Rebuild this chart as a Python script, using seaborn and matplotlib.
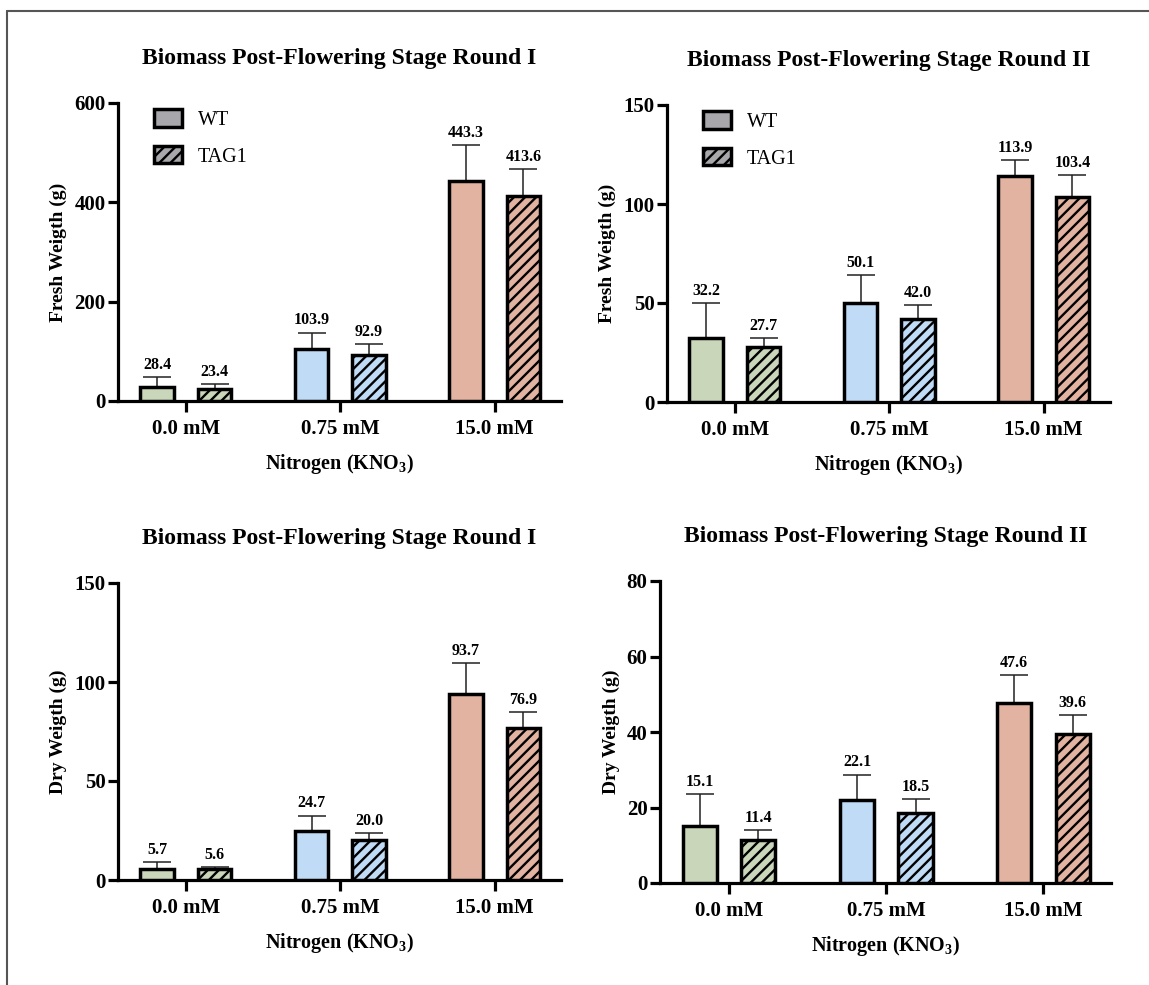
import numpy as np
import pandas as pd
import matplotlib
matplotlib.use("Agg")
import matplotlib.pyplot as plt
from matplotlib.patches import Patch
from matplotlib.lines import Line2D
import seaborn as sns

# ---- data ----
nitrogen = ["0.0 mM", "0.75 mM", "15.0 mM"]
genotypes = ["WT", "TAG1"]

fresh_r1_wt = [28.4, 103.9, 443.3]
fresh_r1_tag1 = [23.4, 92.9, 413.6]
fresh_r1_wt_sd = [19.3, 33.8, 72.7]
fresh_r1_tag1_sd = [10.2, 22.0, 53.4]

fresh_r2_wt = [32.2, 50.1, 113.9]
fresh_r2_tag1 = [27.7, 42.0, 103.4]
fresh_r2_wt_sd = [17.7, 14.2, 8.2]
fresh_r2_tag1_sd = [4.4, 6.9, 11.2]

dry_r1_wt = [5.7, 24.7, 93.7]
dry_r1_tag1 = [5.6, 20.0, 76.9]
dry_r1_wt_sd = [3.2, 7.8, 15.9]
dry_r1_tag1_sd = [0.8, 3.6, 7.9]

dry_r2_wt = [15.1, 22.1, 47.6]
dry_r2_tag1 = [11.4, 18.5, 39.6]
dry_r2_wt_sd = [8.5, 6.6, 7.5]
dry_r2_tag1_sd = [2.6, 3.7, 4.9]

yticks_fresh_r1 = [0, 200, 400, 600]
yticks_fresh_r2 = [0, 50, 100, 150]
yticks_dry_r1 = [0, 50, 100, 150]
yticks_dry_r2 = [0, 20, 40, 60, 80]

# ---- style ----
sns.set_theme(style="ticks")
plt.rcParams["font.family"] = ["Liberation Serif", "DejaVu Serif"]
plt.rcParams["mathtext.default"] = "regular"
plt.rcParams["hatch.linewidth"] = 1.7
for key in ["text.color", "axes.labelcolor", "xtick.color", "ytick.color"]:
    plt.rcParams[key] = "black"

cat_colors = ["#C9D6B9", "#BFDBF5", "#E3B3A2"]
legend_grey = "#A8A7AC"

fig = plt.figure(figsize=(11.49, 9.85), dpi=100)
W, H = 1149, 985


def axes_px(left, right, top, bottom):
    return fig.add_axes([left / W, 1 - bottom / H, (right - left) / W, (bottom - top) / H])


def panel(ax, wt, tag1, wt_sd, tag1_sd, yticks, ylabel, title, legend):
    df = pd.DataFrame({
        "nitrogen": nitrogen * 2,
        "genotype": ["WT"] * 3 + ["TAG1"] * 3,
        "value": list(wt) + list(tag1),
    })
    sns.barplot(data=df, x="nitrogen", y="value", hue="genotype",
                order=nitrogen, hue_order=genotypes, errorbar=None,
                width=0.744, gap=0.417, edgecolor="black", linewidth=2.5,
                legend=False, ax=ax, zorder=3)
    sds = [wt_sd, tag1_sd]
    means = [wt, tag1]
    bar_groups = list(ax.containers[:2])
    for gi, cont in enumerate(bar_groups):
        xs = []
        for ci, bar in enumerate(cont.patches):
            bar.set_facecolor(cat_colors[ci])
            bar.set_edgecolor("black")
            if gi == 1:
                bar.set_hatch("///")
            xs.append(bar.get_x() + bar.get_width() / 2)
        ax.errorbar(xs, means[gi], yerr=[np.zeros(3), sds[gi]], fmt="none",
                    ecolor="#222222", elinewidth=1.1, capsize=10, capthick=1.1,
                    zorder=2)
        for x, m, s in zip(xs, means[gi], sds[gi]):
            ax.annotate(f"{m:.1f}", (x, m + s), xytext=(0, 3),
                        textcoords="offset points", ha="center", va="bottom",
                        fontsize=11.5, fontweight="bold")

    ax.set_xlim(-0.44, 2.43)
    ax.set_ylim(yticks[0], yticks[-1])
    ax.set_yticks(yticks)
    ax.set_xlabel("Nitrogen (KNO$_3$)", fontsize=14.5, fontweight="bold", labelpad=9)
    ax.set_ylabel(ylabel, fontsize=14, fontweight="bold", labelpad=5)
    ax.set_title(title, fontsize=17, fontweight="bold", pad=28)
    sns.despine(ax=ax)
    for s in ["left", "bottom"]:
        ax.spines[s].set_linewidth(2.3)
        ax.spines[s].set_color("black")
    ax.tick_params(axis="y", length=7, width=2.3, labelsize=15, pad=2)
    ax.tick_params(axis="x", length=8, width=2.3, labelsize=15, pad=5)
    for lab in ax.get_xticklabels() + ax.get_yticklabels():
        lab.set_fontweight("bold")

    if legend:
        handles = [
            Patch(facecolor=legend_grey, edgecolor="black", linewidth=2.5, label="WT"),
            Patch(facecolor=legend_grey, edgecolor="black", linewidth=2.5, hatch="///", label="TAG1"),
        ]
        ax.legend(handles=handles, loc="upper left", bbox_to_anchor=(0.04, 1.04),
                  frameon=False, fontsize=14.5, handlelength=1.4, handleheight=0.95,
                  labelspacing=0.8, handletextpad=0.8)


ax1 = axes_px(118, 561, 103, 401)
panel(ax1, fresh_r1_wt, fresh_r1_tag1, fresh_r1_wt_sd, fresh_r1_tag1_sd,
      yticks_fresh_r1, "Fresh Weigth (g)", "Biomass Post-Flowering Stage Round I", True)

ax2 = axes_px(667, 1110, 105, 402)
panel(ax2, fresh_r2_wt, fresh_r2_tag1, fresh_r2_wt_sd, fresh_r2_tag1_sd,
      yticks_fresh_r2, "Fresh Weigth (g)", "Biomass Post-Flowering Stage Round II", True)

ax3 = axes_px(118, 561, 583, 880)
panel(ax3, dry_r1_wt, dry_r1_tag1, dry_r1_wt_sd, dry_r1_tag1_sd,
      yticks_dry_r1, "Dry Weigth (g)", "Biomass Post-Flowering Stage Round I", False)

ax4 = axes_px(660, 1111, 581, 883)
panel(ax4, dry_r2_wt, dry_r2_tag1, dry_r2_wt_sd, dry_r2_tag1_sd,
      yticks_dry_r2, "Dry Weigth (g)", "Biomass Post-Flowering Stage Round II", False)

# figure frame along the top and left edges
fig.add_artist(Line2D([7 / W, 1], [1 - 11 / H, 1 - 11 / H], transform=fig.transFigure,
                      color="#555555", linewidth=1.5))
fig.add_artist(Line2D([7 / W, 7 / W], [0, 1 - 11 / H], transform=fig.transFigure,
                      color="#555555", linewidth=1.5))

fig.savefig("out.png", dpi=100, facecolor="white")
